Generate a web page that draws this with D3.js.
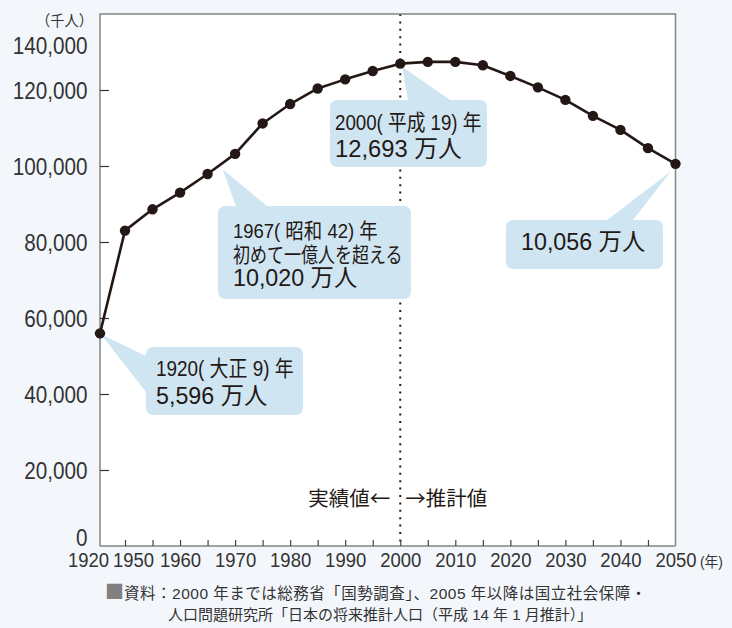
<!DOCTYPE html>
<html lang="ja">
<head>
<meta charset="utf-8">
<title>日本の人口の推移</title>
<script src="https://cdn.jsdelivr.net/npm/d3@7/dist/d3.min.js"></script>
<style>
  html, body { margin: 0; padding: 0; background: #f3f7fc; }
  svg { display: block; }
</style>
</head>
<body>
<svg id="chart" width="732" height="628"></svg>
<script>
// ---- data (population in thousands) ----
const years = [1920, 1950, 1955, 1960, 1965, 1970, 1975, 1980, 1985, 1990, 1995,
               2000, 2005, 2010, 2015, 2020, 2025, 2030, 2035, 2040, 2045, 2050];
const population = [55960, 83000, 88600, 93000, 97900, 103200, 111200, 116300, 120400, 122800, 125000,
                    126930, 127400, 127400, 126500, 123700, 120700, 117400, 113200, 109500, 104700, 100560];

const yTickValues = [0, 20000, 40000, 60000, 80000, 100000, 120000, 140000];
const xTickValues = [1920, 1950, 1955, 1960, 1965, 1970, 1975, 1980, 1985, 1990, 1995,
                     2000, 2005, 2010, 2015, 2020, 2025, 2030, 2035, 2040, 2045, 2050];
const xLabelYears = [1920, 1950, 1960, 1970, 1980, 1990, 2000, 2010, 2020, 2030, 2040, 2050];

const splitYear = 2000;   // actual values up to here, projections after
const noteYears  = [1920, 1967, 2000, 2050];
const noteValues = [55960, 100200, 126930, 100560];
const noteHeads  = [["1920( 大正 9) 年"], ["1967( 昭和 42) 年", "初めて一億人を超える"], ["2000( 平成 19) 年"], []];

const yUnit = "（千人）";
const xUnit = "(年)";
const actualLabel = "実績値←";
const projLabel = "→推計値";
const sourceLines = ["資料：2000 年までは総務省「国勢調査」、2005 年以降は国立社会保障・",
                     "人口問題研究所「日本の将来推計人口（平成 14 年 1 月推計）」"];

// ---- layout ----
const FONT = "'Liberation Sans', 'Noto Sans CJK JP', sans-serif";
const JP_FONT = "'Noto Sans CJK JP', sans-serif";
const INK = "#231815";
const TEXT = "#333333";
const NOTE_FILL = "#cfe5f2";
const plot = { left: 100, right: 675.5, top: 14, bottom: 546 };

const svg = d3.select("#chart");

const x = d3.scaleLinear()
  .domain([1920, 1950, 2050])
  .range([plot.left, 125, plot.right]);
const y = d3.scaleLinear()
  .domain([0, 140000])
  .range([plot.bottom, plot.top]);

// text helper: horizontally condensed text placed at (px, py)
function label(g, px, py, str, size, sx, anchor, fill, family) {
  return g.append("text")
    .attr("transform", `translate(${px},${py}) scale(${sx},1)`)
    .attr("font-family", family || FONT)
    .attr("font-size", size)
    .attr("text-anchor", anchor || "start")
    .attr("fill", fill || TEXT)
    .text(str);
}

// page background and plot area
svg.append("rect").attr("width", 732).attr("height", 628).attr("fill", "#f3f7fc");
svg.append("rect")
  .attr("x", plot.left).attr("y", plot.top)
  .attr("width", plot.right - plot.left).attr("height", plot.bottom - plot.top)
  .attr("fill", "#ffffff");

// dotted divider between actual and projected values
svg.append("line")
  .attr("x1", x(splitYear)).attr("x2", x(splitYear))
  .attr("y1", plot.top).attr("y2", plot.bottom)
  .attr("stroke", INK).attr("stroke-width", 2)
  .attr("stroke-dasharray", "2,5.4");

// callouts: rounded box with a wedge pointing at the curve
const noteLayout = [
  { box: [146, 347, 157, 68], base: [[146, 356], [146, 392]], off: [1, 1],
    lines: [[156, 376, 22, 0.86], [156, 404, 24, 0.97]] },
  { box: [218, 206, 193, 93], base: [[236, 206], [267, 206]], off: [4, 4],
    lines: [[233, 238, 21, 0.88], [233, 262, 21, 0.81], [233, 285.5, 24, 0.97]] },
  { box: [330, 100, 157, 67], base: [[408, 100], [450, 100]], off: [2, 3],
    lines: [[335, 129.5, 22, 0.85], [335, 157, 24, 0.99]] },
  { box: [506, 220, 157, 49], base: [[607, 220], [633, 220]], off: [-5, 8],
    lines: [[521, 250, 24, 0.97]] }
];
const fmt = d3.format(",");
const notes = svg.append("g");
noteYears.forEach((yr, i) => {
  const L = noteLayout[i];
  const tip = [x(yr) + L.off[0], y(noteValues[i]) + L.off[1]];
  const g = notes.append("g");
  g.append("path")
    .attr("d", `M${tip[0]},${tip[1]}L${L.base[0][0]},${L.base[0][1]}L${L.base[1][0]},${L.base[1][1]}Z`)
    .attr("fill", NOTE_FILL);
  g.append("rect")
    .attr("x", L.box[0]).attr("y", L.box[1])
    .attr("width", L.box[2]).attr("height", L.box[3])
    .attr("rx", 7).attr("fill", NOTE_FILL);
  const lines = noteHeads[i].concat([fmt(noteValues[i] / 10) + " 万人"]);
  lines.forEach((t, j) => {
    const p = L.lines[j];
    label(g, p[0], p[1], t, p[2], p[3], "start", INK);
  });
});

// frame (left/top/right borders)
svg.append("path")
  .attr("d", `M${plot.left},${plot.bottom}V${plot.top}H${plot.right}V${plot.bottom}`)
  .attr("fill", "none").attr("stroke", "#858585").attr("stroke-width", 1.5);

// y axis
const yAxis = svg.append("g")
  .attr("transform", `translate(${plot.left},0)`)
  .call(d3.axisLeft(y).tickValues(yTickValues).tickSize(-9).tickFormat(fmt));
yAxis.select(".domain").remove();
yAxis.selectAll(".tick line")
  .attr("stroke", "#333").attr("stroke-width", 1.2)
  .attr("display", d => (d === 0 || d === 140000) ? "none" : null);
yAxis.selectAll(".tick text")
  .attr("font-family", FONT).attr("font-size", 23).attr("fill", TEXT)
  .attr("text-anchor", "end")
  .attr("x", 0).attr("dy", null)
  .attr("transform", d => `translate(-12.5,${d === 140000 ? 39 : d === 0 ? -1 : 8}) scale(0.9,1)`);

// x axis
const xAxis = svg.append("g")
  .attr("transform", `translate(0,${plot.bottom})`)
  .call(d3.axisBottom(x).tickValues(xTickValues).tickSize(-6)
    .tickFormat(d => xLabelYears.includes(d) ? d : ""));
xAxis.select(".domain")
  .attr("d", `M${plot.left},0H${plot.right}`)
  .attr("stroke", "#858585").attr("stroke-width", 1.5);
xAxis.selectAll(".tick line")
  .attr("stroke", "#444").attr("stroke-width", 1.2)
  .attr("display", d => (d === 1920 || d === 2050) ? "none" : null);
xAxis.selectAll(".tick text")
  .attr("font-family", FONT).attr("font-size", 19.5).attr("fill", TEXT)
  .attr("y", 0).attr("dy", null)
  .attr("transform", d => `translate(${d === 1920 ? -12 : d === 1950 ? 8 : 0},21) scale(0.95,1)`);

// population line and points
const pts = years.map((yr, i) => [x(yr), y(population[i])]);
svg.append("path")
  .attr("d", d3.line()(pts))
  .attr("fill", "none").attr("stroke", INK)
  .attr("stroke-width", 2.6).attr("stroke-linejoin", "round");
svg.append("g").selectAll("circle")
  .data(pts).join("circle")
  .attr("cx", d => d[0]).attr("cy", d => d[1])
  .attr("r", 5.2).attr("fill", INK);

// unit labels
label(svg, 93, 26, yUnit, 15, 0.95, "end");
label(svg, 700, 567, xUnit, 14.5, 0.95, "start");

// actual / projection labels
label(svg, x(splitYear) - 10, 506, actualLabel, 20.5, 1, "end", INK, JP_FONT);
label(svg, x(splitYear) + 5, 506, projLabel, 20.5, 1, "start", INK, JP_FONT);

// source note
const src = svg.append("text")
  .attr("transform", "translate(105,599)")
  .attr("font-family", FONT).attr("font-size", 15.5).attr("fill", TEXT)
  .attr("letter-spacing", 0.5);
src.append("tspan").attr("fill", "#808080").attr("font-size", 19)
  .attr("font-family", JP_FONT).attr("letter-spacing", 0).text("■");
src.append("tspan").text(sourceLines[0]);
label(svg, 168, 620, sourceLines[1], 15, 1, "start");
</script>
</body>
</html>
